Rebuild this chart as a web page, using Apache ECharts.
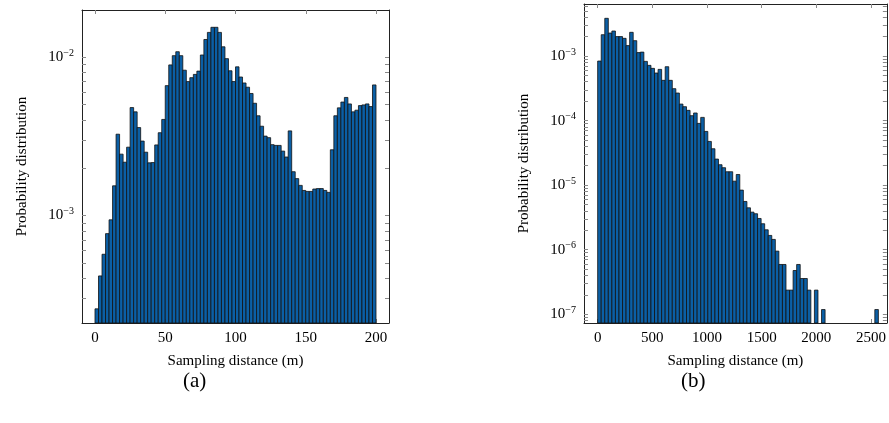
<!DOCTYPE html>
<html>
<head>
<meta charset="utf-8">
<script src="https://cdn.jsdelivr.net/npm/echarts@6/dist/echarts.min.js"></script>
<style>
html, body { margin: 0; padding: 0; background: #fff; }
#chart { width: 889px; height: 423px; }
</style>
</head>
<body>
<div id="chart"></div>
<script>
// (a) bins de 2.5 m entre 0 y 200
const anchoBinA = 2.5;
const valoresA = [
    2.58e-4, 4.16e-4, 5.70e-4, 7.69e-4, 9.40e-4, 1.54e-3, 3.26e-3, 2.44e-3, 2.17e-3, 2.70e-3,
    4.80e-3, 4.51e-3, 3.59e-3, 2.95e-3, 2.51e-3, 2.15e-3, 2.16e-3, 2.79e-3, 3.33e-3, 4.04e-3,
    6.60e-3, 8.92e-3, 1.02e-2, 1.08e-2, 1.02e-2, 8.26e-3, 7.00e-3, 7.41e-3, 7.77e-3, 8.15e-3,
    1.03e-2, 1.29e-2, 1.43e-2, 1.54e-2, 1.54e-2, 1.43e-2, 1.16e-2, 9.77e-3, 8.19e-3, 7.00e-3,
    8.67e-3, 7.48e-3, 6.86e-3, 6.45e-3, 5.89e-3, 5.11e-3, 4.26e-3, 3.66e-3, 3.17e-3, 3.10e-3,
    2.80e-3, 2.77e-3, 2.77e-3, 2.55e-3, 2.34e-3, 3.42e-3, 1.89e-3, 1.71e-3, 1.55e-3, 1.44e-3,
    1.42e-3, 1.42e-3, 1.47e-3, 1.48e-3, 1.48e-3, 1.44e-3, 1.40e-3, 2.60e-3, 4.26e-3, 4.78e-3,
    5.20e-3, 5.56e-3, 5.06e-3, 4.51e-3, 4.62e-3, 4.94e-3, 4.99e-3, 5.06e-3, 4.87e-3, 6.67e-3
];
// (b) bins de 32.5 m entre 0 y 2600 (null = bin vacío)
const anchoBinB = 32.5;
const valoresB = [
    8.36e-4, 2.14e-3, 3.84e-3, 2.27e-3, 2.44e-3, 2.00e-3, 2.00e-3, 1.88e-3, 1.45e-3, 2.33e-3,
    1.73e-3, 1.13e-3, 1.15e-3, 8.26e-4, 7.17e-4, 6.44e-4, 5.45e-4, 6.21e-4, 4.20e-4, 6.83e-4,
    4.20e-4, 3.12e-4, 2.67e-4, 1.80e-4, 1.64e-4, 1.44e-4, 1.19e-4, 1.31e-4, 9.04e-5, 1.12e-4,
    6.79e-5, 4.75e-5, 3.66e-5, 2.53e-5, 2.07e-5, 1.86e-5, 1.61e-5, 1.61e-5, 1.15e-5, 1.46e-5,
    8.36e-6, 5.58e-6, 4.45e-6, 3.81e-6, 3.60e-6, 3.04e-6, 2.52e-6, 2.03e-6, 1.66e-6, 1.44e-6,
    9.48e-7, 5.89e-7, 5.89e-7, 2.36e-7, 2.36e-7, 4.75e-7, 5.89e-7, 3.57e-7, 3.57e-7, 2.36e-7,
    null, 2.36e-7, null, 1.18e-7, null, null, null, null, null, null,
    null, null, null, null, null, null, null, null, 1.18e-7, null
];
const ticksXA = [0, 50, 100, 150, 200];
const ticksXB = [0, 500, 1000, 1500, 2000, 2500];
const decadasA = [-3, -2];
const decadasB = [-7, -6, -5, -4, -3];

const SERIF = 'Liberation Serif';
const AZUL = '#0b5fa5';

function menores(decMin, decMax) {
    const out = [];
    for (let d = decMin; d <= decMax; d++) {
        for (let k = 1; k <= 9; k++) out.push(d + Math.log10(k));
    }
    return out;
}

function binsDe(valores, ancho) {
    return valores
        .map((v, i) => [i * ancho, (i + 1) * ancho, v])
        .filter(d => d[2] !== null);
}

function serieHist(datos, eje, yMin) {
    return {
        type: 'custom',
        xAxisIndex: eje, yAxisIndex: eje,
        data: datos,
        renderItem: (params, api) => {
            const p0 = api.coord([api.value(0), Math.log10(api.value(2))]);
            const p1 = api.coord([api.value(1), yMin]);
            return {
                type: 'rect',
                shape: {x: p0[0], y: p0[1], width: p1[0] - p0[0], height: p1[1] - p0[1]},
                style: {fill: AZUL, stroke: '#111', lineWidth: 0.8}
            };
        }
    };
}

function ejesX(grid, min, max, ticks) {
    const base = {
        type: 'value', gridIndex: grid, min: min, max: max,
        splitLine: {show: false},
        axisLine: {onZero: false, lineStyle: {color: '#222', width: 1}},
        axisTick: {inside: true, length: 4, customValues: ticks, lineStyle: {color: '#888'}}
    };
    return [
        Object.assign({}, base, {
            position: 'bottom',
            name: 'Sampling distance (m)', nameLocation: 'middle', nameGap: 31,
            nameTextStyle: {fontFamily: SERIF, fontSize: 15, color: '#000'},
            axisLabel: {customValues: ticks, formatter: v => String(v), fontFamily: SERIF, fontSize: 15, color: '#000', margin: 8}
        }),
        Object.assign({}, base, {position: 'top', axisLabel: {show: false}})
    ];
}

function etiquetaPot(v) {
    return '10{s|−' + Math.round(-v) + '}';
}

function ejesY(grid, min, max, decadas) {
    const base = {
        type: 'value', gridIndex: grid, min: min, max: max,
        splitLine: {show: false},
        axisLine: {onZero: false, lineStyle: {color: '#222', width: 1}},
        axisTick: {inside: true, length: 4, customValues: menores(decadas[0] - 1, decadas[decadas.length - 1]).filter(v => v >= min && v <= max), lineStyle: {color: '#888'}},
        minorTick: {show: false}
    };
    return [
        Object.assign({}, base, {
            position: 'left',
            name: 'Probability distribution', nameLocation: 'middle', nameGap: 52,
            nameTextStyle: {fontFamily: SERIF, fontSize: 15, color: '#000'},
            axisLabel: {
                customValues: decadas, formatter: etiquetaPot, margin: 8,
                fontFamily: SERIF, fontSize: 15, color: '#000',
                rich: {s: {fontFamily: SERIF, fontSize: 10, verticalAlign: 'top', padding: [0, 0, 8, 0]}}
            }
        }),
        Object.assign({}, base, {position: 'right', axisLabel: {show: false}})
    ];
}

const yMinA = Math.log10(2.1e-4), yMaxA = Math.log10(0.0198);
const yMinB = Math.log10(7.3e-8), yMaxB = Math.log10(6.4e-3);

const chart = echarts.init(document.getElementById('chart'));
chart.setOption({
    backgroundColor: '#fff',
    animation: false,
    grid: [
        {left: 82, right: 500, top: 10, bottom: 100},
        {left: 584, right: 2, top: 4, bottom: 100}
    ],
    title: [
        {text: '(a)', left: 178, top: 366, textStyle: {fontFamily: SERIF, fontSize: 21, fontWeight: 'normal', color: '#000'}},
        {text: '(b)', left: 676, top: 366, textStyle: {fontFamily: SERIF, fontSize: 21, fontWeight: 'normal', color: '#000'}}
    ],
    xAxis: [...ejesX(0, -9.25, 209.25, ticksXA), ...ejesX(1, -125, 2645, ticksXB)],
    yAxis: [...ejesY(0, yMinA, yMaxA, decadasA), ...ejesY(1, yMinB, yMaxB, decadasB)],
    series: [
        Object.assign(serieHist(binsDe(valoresA, anchoBinA), 0, yMinA), {xAxisIndex: 0, yAxisIndex: 0}),
        Object.assign(serieHist(binsDe(valoresB, anchoBinB), 2, yMinB), {xAxisIndex: 2, yAxisIndex: 2})
    ]
});
</script>
</body>
</html>
